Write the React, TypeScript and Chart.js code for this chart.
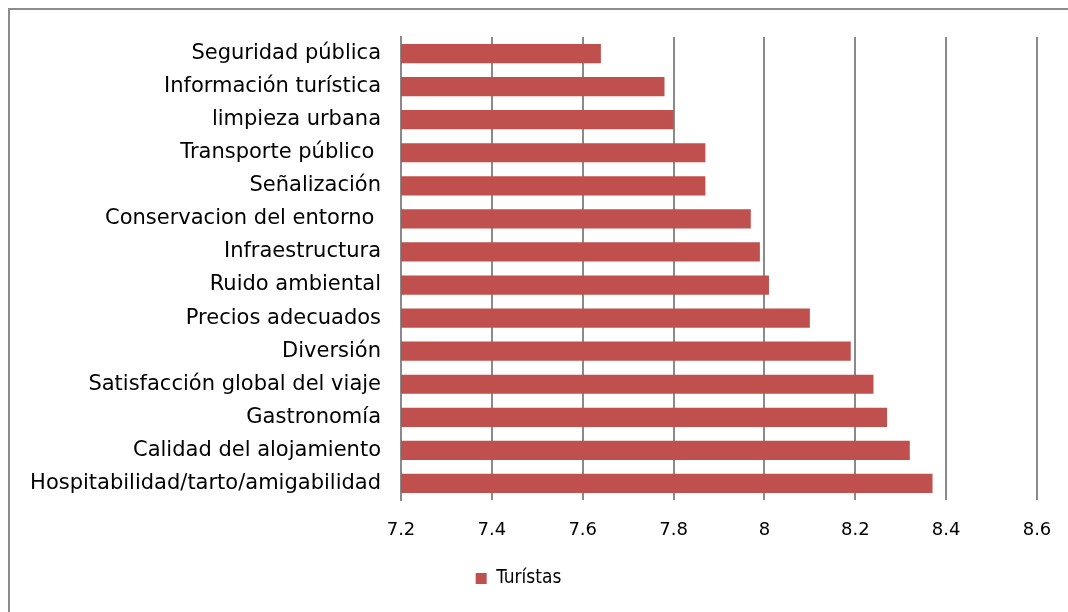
import React, { useEffect, useRef } from "react";
import { Chart, registerables } from "chart.js";

Chart.register(...registerables);

const categories = [
  "Seguridad pública",
  "Información turística",
  "limpieza urbana",
  "Transporte público ",
  "Señalización",
  "Conservacion del entorno ",
  "Infraestructura",
  "Ruido ambiental",
  "Precios adecuados",
  "Diversión",
  "Satisfacción global del viaje",
  "Gastronomía",
  "Calidad del alojamiento",
  "Hospitabilidad/tarto/amigabilidad",
];

const turistas = [7.64, 7.78, 7.8, 7.87, 7.87, 7.97, 7.99, 8.01, 8.1, 8.19, 8.24, 8.27, 8.32, 8.37];

const seriesName = "Turístas";
const xMin = 7.2;
const xMax = 8.6;
const xStep = 0.2;

const FONT = "'DejaVu Sans', sans-serif";
const LEGEND_FONT = "'Liberation Sans Narrow', 'DejaVu Sans Condensed', sans-serif";

export default function App() {
  const ref = useRef<HTMLCanvasElement | null>(null);

  useEffect(() => {
    if (!ref.current) return;
    const chart = new Chart(ref.current, {
      type: "bar",
      data: {
        labels: categories,
        datasets: [
          {
            label: seriesName,
            data: turistas,
            backgroundColor: "#c0504d",
            borderColor: "#c0504d",
            borderWidth: 0,
            barPercentage: 0.58,
            categoryPercentage: 1,
          },
        ],
      },
      options: {
        indexAxis: "y",
        animation: false,
        responsive: false,
        maintainAspectRatio: false,
        layout: { padding: { top: 37, right: 31, bottom: 14, left: 0 } },
        plugins: {
          legend: {
            position: "bottom",
            align: "center",
            labels: {
              font: { family: LEGEND_FONT, size: 19 },
              color: "#000",
              boxWidth: 11,
              boxHeight: 11,
              padding: 8,
            },
          },
          tooltip: { enabled: false },
        },
        scales: {
          x: {
            min: xMin,
            max: xMax,
            afterFit: (s: any) => {
              s.height = 61;
              s.paddingLeft = 0;
              s.paddingRight = 14;
            },
            ticks: {
              stepSize: xStep,
              font: { family: FONT, size: 18 },
              color: "#000",
              padding: 20,
              callback: (v: any) => String(Math.round(Number(v) * 10) / 10),
            },
            grid: { color: "#8a8a8a", lineWidth: 2, drawTicks: false },
            border: { display: false },
          },
          y: {
            afterFit: (s: any) => {
              s.width = 401;
            },
            ticks: {
              font: { family: FONT, size: 21 },
              color: "#000",
              padding: 20,
              autoSkip: false,
            },
            grid: { display: false, drawTicks: false },
            border: { display: true, color: "#8a8a8a", width: 2 },
          },
        },
      },
    });
    return () => chart.destroy();
  }, []);

  return (
    <div>
      <div
        style={{
          position: "fixed",
          left: 8,
          top: 8,
          width: 1060,
          height: 604,
          borderLeft: "2px solid #8c8c8c",
          borderTop: "2px solid #8c8c8c",
          boxSizing: "border-box",
        }}
      />
      <canvas
        ref={ref}
        width={1068}
        height={612}
        style={{ position: "fixed", left: 0, top: 0, width: 1068, height: 612 }}
      />
    </div>
  );
}
